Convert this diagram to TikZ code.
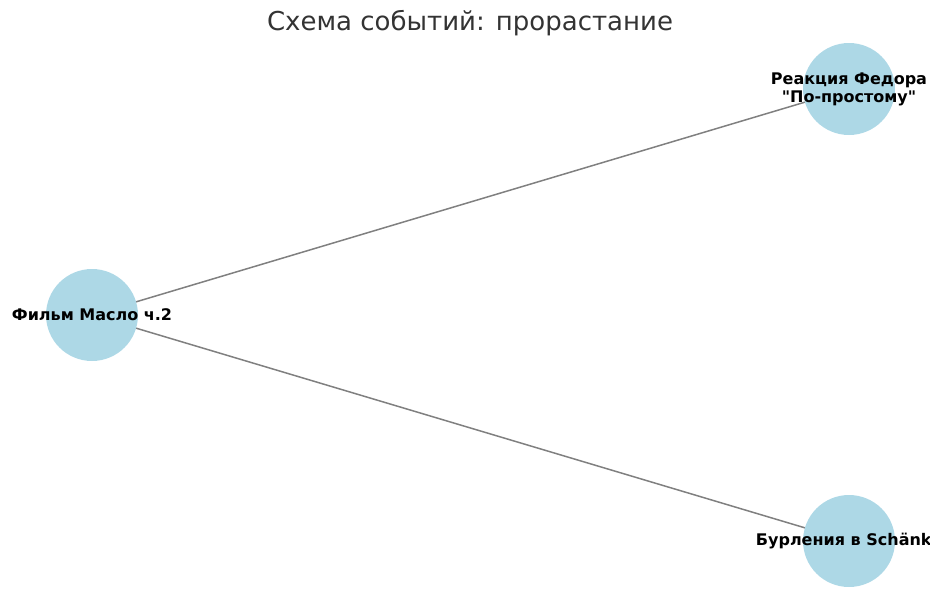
\documentclass[tikz,border=0pt]{standalone}
\usepackage{fontspec}
\setmainfont{DejaVu Sans}
\usepackage{xcolor}
\usetikzlibrary{backgrounds}
\definecolor{nodeblue}{HTML}{ADD8E6}
\definecolor{titlegray}{HTML}{333333}

\begin{document}
\begin{tikzpicture}[x=1pt,y=-1pt]
          %page frame
          \useasboundingbox (0,0) rectangle (940,600);
          \clip (0,0) rectangle (929,600);
          \tikzset{event/.style={circle,fill=nodeblue,minimum size=92pt,inner sep=0pt},
                   evlabel/.style={font=\bfseries\fontsize{16}{18}\selectfont,align=center,text=black},
                   link/.style={draw=gray,line width=1.5pt}}

          \node[font=\fontsize{26}{30}\selectfont,text=titlegray] (title) at (470,23) {Схема событий: прорастание};

          \node[event] (film) at (92,315) {};
          \node[event] (fedor) at (849,89) {};
          \node[event] (burl) at (849,541) {};

          \begin{pgfonlayer}{background}
          \draw[link] (film.center) -- (fedor.center);
          \draw[link] (film.center) -- (burl.center);
          \end{pgfonlayer}

          \node[evlabel] (filmtext) at (film) {Фильм Масло ч.2};
          \node[evlabel] (fedortext) at (fedor) {Реакция Федора\\\textquotedbl По-простому\textquotedbl};
          \node[evlabel] (burltext) at (burl) {Бурления в Schänke};
          \end{tikzpicture}
\end{document}
